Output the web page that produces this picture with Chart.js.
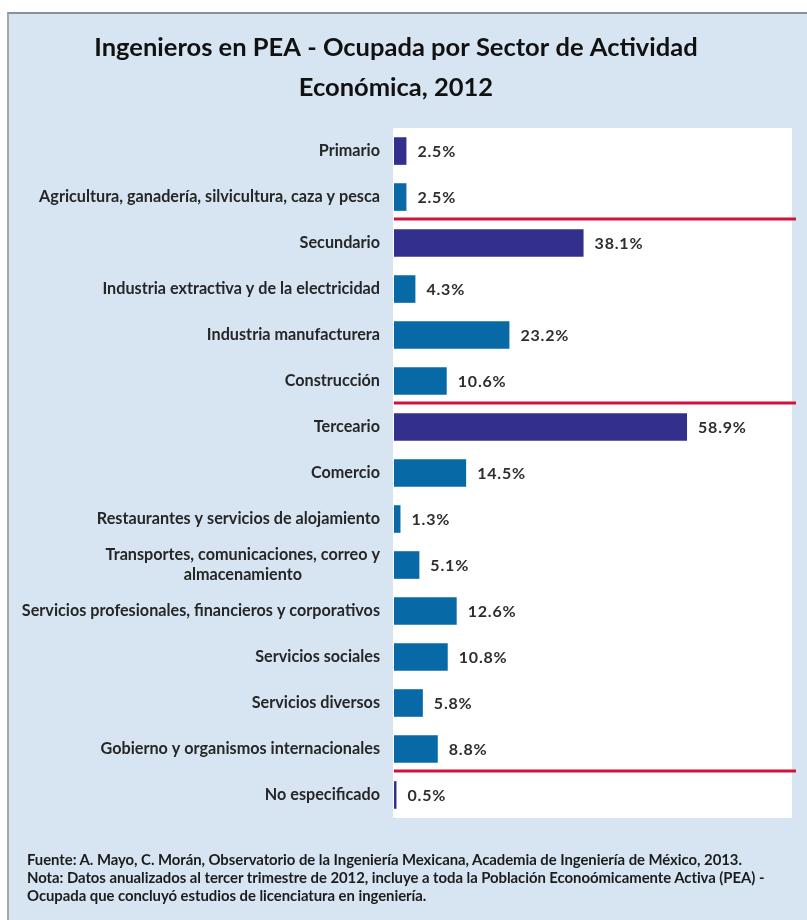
<!DOCTYPE html>
<html lang="es">
<head>
<meta charset="utf-8">
<title>Ingenieros en PEA - Ocupada por Sector de Actividad Económica, 2012</title>
<script src="https://cdn.jsdelivr.net/npm/chart.js@4"></script>
<style>
  html, body { margin: 0; padding: 0; background: #ffffff; }
  body { width: 807px; height: 920px; position: relative; overflow: hidden; }
  #panel {
    position: absolute; left: 7px; top: 12px; right: 0; bottom: 0;
    background: #d7e5f3;
    border-top: 2px solid #8c9199;
    border-left: 2px solid #a3a8ae;
  }
  #wrap { position: absolute; left: 0; top: 0; width: 807px; height: 920px; }
  #notes {
    position: absolute; left: 27px; top: 850px;
    font-family: Lato, "Open Sans", sans-serif; font-weight: bold;
    font-size: 14.9px; line-height: 18px; color: #1c1c1c;
    white-space: nowrap; letter-spacing: -0.05px;
  }
</style>
</head>
<body>
<div id="panel"></div>
<div id="wrap"><canvas id="chart"></canvas></div>
<div id="notes">
  <div>Fuente: A. Mayo, C. Morán, Observatorio de la Ingeniería Mexicana, Academia de Ingeniería de México, 2013.</div>
  <div>Nota: Datos anualizados al tercer trimestre de 2012, incluye a toda la Población Econoómicamente Activa (PEA) -</div>
  <div>Ocupada que concluyó estudios de licenciatura en ingeniería.</div>
</div>
<script>
// Sectors and sub-sectors, top to bottom
const categories = [
  'Primario',
  'Agricultura, ganadería, silvicultura, caza y pesca',
  'Secundario',
  'Industria extractiva y de la electricidad',
  'Industria manufacturera',
  'Construcción',
  'Terceario',
  'Comercio',
  'Restaurantes y servicios de alojamiento',
  ['Transportes, comunicaciones, correo y', 'almacenamiento'],
  'Servicios profesionales, financieros y corporativos',
  'Servicios sociales',
  'Servicios diversos',
  'Gobierno y organismos internacionales',
  'No especificado'
];

// Share of employed engineers (%)
const shares = [2.5, 2.5, 38.1, 4.3, 23.2, 10.6, 58.9, 14.5, 1.3, 5.1, 12.6, 10.8, 5.8, 8.8, 0.5];

// true = main sector total, false = sub-sector
const isSector = [true, false, true, false, false, false, true, false, false, false, false, false, false, false, true];

// Separator lines drawn after these category indexes
const groupEnds = [1, 5, 13];

const titleLines = ['Ingenieros en PEA - Ocupada por Sector de Actividad', 'Económica, 2012'];

const SECTOR_COLOR = '#332f8c';
const SUB_COLOR = '#0869a7';
const FONT = 'Lato, "Open Sans", sans-serif';

// White plot background, red group separators, category and value labels
const decorations = {
  id: 'decorations',
  beforeDatasetsDraw(chart) {
    const { ctx, chartArea: a } = chart;
    ctx.save();
    ctx.fillStyle = '#ffffff';
    ctx.fillRect(a.left - 1, a.top, a.right - a.left + 1, a.bottom - a.top);
    ctx.restore();
  },
  afterDatasetsDraw(chart) {
    const { ctx, chartArea: a } = chart;
    const y = chart.scales.y;
    const x = chart.scales.x;
    ctx.save();

    // group separators
    ctx.strokeStyle = '#d3113d';
    ctx.lineWidth = 3;
    groupEnds.forEach(i => {
      const py = (y.getPixelForValue(i) + y.getPixelForValue(i + 1)) / 2 - 1;
      ctx.beginPath();
      ctx.moveTo(a.left, py);
      ctx.lineTo(a.right + 4, py);
      ctx.stroke();
    });

    // value labels
    ctx.font = 'bold 16px ' + FONT;
    ctx.letterSpacing = '0.8px';
    ctx.fillStyle = '#2e2e2e';
    ctx.textAlign = 'left';
    ctx.textBaseline = 'middle';
    shares.forEach((v, i) => {
      const px = x.getPixelForValue(v) + 11;
      ctx.fillText(v.toFixed(1) + '%', px, y.getPixelForValue(i) + 1);
    });

    // category labels: right-aligned block, multi-line entries centred within it
    ctx.font = 'bold 16.2px ' + FONT;
    ctx.letterSpacing = '0px';
    ctx.fillStyle = '#262626';
    const right = a.left - 14;
    categories.forEach((lab, i) => {
      const lines = Array.isArray(lab) ? lab : [lab];
      const cy = y.getPixelForValue(i);
      const lh = 20;
      const w = Math.max(...lines.map(l => ctx.measureText(l).width));
      lines.forEach((l, k) => {
        const ly = cy + (k - (lines.length - 1) / 2) * lh;
        if (lines.length > 1) {
          ctx.textAlign = 'center';
          ctx.fillText(l, right - w / 2, ly);
        } else {
          ctx.textAlign = 'right';
          ctx.fillText(l, right, ly);
        }
      });
    });
    ctx.restore();
  }
};

new Chart(document.getElementById('chart'), {
  type: 'bar',
  data: {
    labels: categories,
    datasets: [{
      data: shares,
      backgroundColor: isSector.map(s => s ? SECTOR_COLOR : SUB_COLOR),
      barPercentage: 0.6,
      categoryPercentage: 1.0,
      borderWidth: 0
    }]
  },
  options: {
    indexAxis: 'y',
    responsive: true,
    maintainAspectRatio: false,
    animation: false,
    layout: { padding: { left: 0, right: 15, top: 0, bottom: 102 } },
    plugins: {
      legend: { display: false },
      tooltip: { enabled: false },
      title: {
        display: true,
        text: titleLines,
        color: '#111111',
        font: { family: FONT, size: 25.5, weight: 'bold', lineHeight: 1.55 },
        padding: { top: 28, bottom: 21 }
      }
    },
    scales: {
      x: { display: false, min: 0, max: 80 },
      y: {
        grid: { display: false, drawTicks: false },
        border: { display: true, color: 'rgba(140,140,140,0.55)', width: 1 },
        ticks: { display: false },
        afterFit(scale) { scale.width = 394; }
      }
    }
  },
  plugins: [decorations]
});
</script>
</body>
</html>
